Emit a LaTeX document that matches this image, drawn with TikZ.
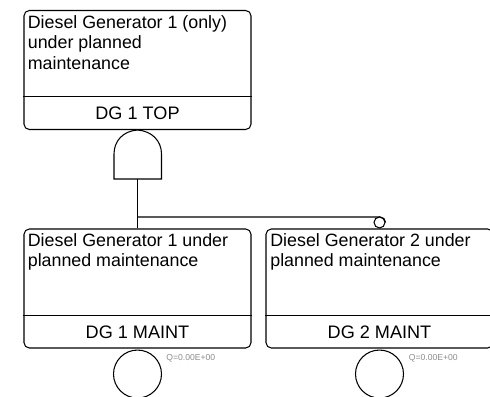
\documentclass[tikz,border=0pt]{standalone}
\usepackage{fontspec}
\setmainfont{Liberation Sans}
\usetikzlibrary{positioning}

\begin{document}
\begin{tikzpicture}[x=0.02cm,y=-0.02cm]
\tikzset{
  eventbox/.style={draw,line width=0.6pt,rounded corners=3pt,minimum width=4.54cm,minimum height=2.38cm,inner sep=0pt},
  desctext/.style={anchor=north west,align=left,inner sep=0pt,font=\fontsize{10.15}{11.7}\selectfont},
  idtext/.style={inner sep=0pt,font=\fontsize{10.3}{12}\selectfont},
  basicevent/.style={circle,draw,line width=0.6pt,minimum size=0.96cm,inner sep=0pt},
  inhibit/.style={circle,draw,line width=0.6pt,minimum size=0.22cm,inner sep=0pt},
  probtext/.style={anchor=west,inner sep=0pt,text=black!45,font=\fontsize{4.9}{6}\selectfont},
  wire/.style={line width=0.6pt}
}
\useasboundingbox (0,0) rectangle (490,396);
\node[eventbox] (n_top) at (137.5,70) {};
\node[eventbox] (n_dg1) at (137.5,288.5) {};
\node[eventbox] (n_dg2) at (379.5,288.5) {};
\node[desctext] (t_top) at (27.5,15) {Diesel Generator 1 (only)\\under planned\\maintenance};
\node[desctext] (t_dg1) at (27.5,233) {Diesel Generator 1 under\\planned maintenance};
\node[desctext] (t_dg2) at (270,233) {Diesel Generator 2 under\\planned maintenance};
\draw[wire] (n_top.west |- 0,96.5) -- (n_top.east |- 0,96.5);
\draw[wire] (n_dg1.west |- 0,315.5) -- (n_dg1.east |- 0,315.5);
\draw[wire] (n_dg2.west |- 0,315.5) -- (n_dg2.east |- 0,315.5);
\node[idtext] (i_top) at (137.5,113.5) {DG 1 TOP};
\node[idtext] (i_dg1) at (137.5,332) {DG 1 MAINT};
\node[idtext] (i_dg2) at (379.5,332) {DG 2 MAINT};
% and gate
\coordinate (g_in) at (137.5,179);
\draw[wire] (n_top.south) .. controls (123,131) and (114,141) .. (114,154) -- (114,179) -- (161.5,179) -- (161.5,154) .. controls (161.5,141) and (152,131) .. (n_top.south);
\node[basicevent,below=0.02cm of n_dg1.south] (c_dg1) {};
\node[basicevent,below=0.02cm of n_dg2.south] (c_dg2) {};
\node[probtext] (q_dg1) at (166,358) {Q=0.00E+00};
\node[probtext] (q_dg2) at (408.5,358) {Q=0.00E+00};
\node[inhibit,above=0pt of n_dg2.north] (c_inh) {};
\coordinate (j_dg) at (137.5,217);
\draw[wire] (g_in) -- (n_dg1.north);
\draw[wire,rounded corners=3pt] (j_dg) -- (j_dg -| c_inh.east) -- (c_inh.east);
\end{tikzpicture}
\end{document}
